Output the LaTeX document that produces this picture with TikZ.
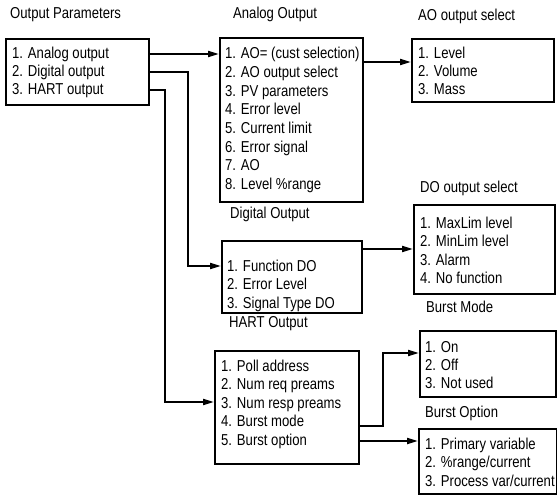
\documentclass[tikz,border=0pt]{standalone}
\usepackage{fontspec}
\setmainfont{Liberation Sans}[FakeStretch=0.83]
\usetikzlibrary{arrows.meta}
\begin{document}
\begin{tikzpicture}[x=1pt,y=-1pt,
  box/.style={draw, line width=2pt, anchor=north west, inner sep=0pt},
  txt/.style={anchor=base west, inner sep=0pt, font=\fontsize{15.8}{18}\selectfont},
  conn/.style={line width=2pt},
  arr/.style={conn, -{Triangle[length=11pt,width=6pt]}}]
\fill[white] (0,0) rectangle (557,495);
\useasboundingbox (0,0) rectangle (557,495);
% titles
\node[txt] (t-op) at (10,19) {Output Parameters};
\node[txt] (t-an) at (233,19) {Analog Output};
\node[txt] (t-aos) at (418,21) {AO output select};
\node[txt] (t-dos) at (420,192) {DO output select};
\node[txt] (t-dg) at (230,218) {Digital Output};
\node[txt] (t-bm) at (426,312) {Burst Mode};
\node[txt] (t-ht) at (229,327) {HART Output};
\node[txt] (t-bo) at (425,417) {Burst Option};
% boxes
\node[box, minimum width=143, minimum height=66] (op) at (5,38) {};
\node[box, minimum width=143, minimum height=164] (an) at (219,37) {};
\node[box, minimum width=142, minimum height=63] (aos) at (411,38) {};
\node[box, minimum width=140, minimum height=72] (dg) at (221,240) {};
\node[box, minimum width=141, minimum height=89] (dos) at (413,204) {};
\node[box, minimum width=144, minimum height=113] (ht) at (214,350) {};
\node[box, minimum width=136, minimum height=66] (bm) at (419,330) {};
\node[box, minimum width=138, minimum height=65] (bo) at (418,428) {};
% lists
\foreach \t [count=\i] in {1. Analog output, 2. Digital output, 3. HART output}
  \node[txt] (op-\i) at (12,{59+(\i-1)*18}) {\t};
\foreach \t [count=\i] in {1. AO= (cust selection), 2. AO output select, 3. PV parameters, 4. Error level, 5. Current limit, 6. Error signal, 7. AO, 8. Level \%range}
  \node[txt] (an-\i) at (225,{59+(\i-1)*18.6}) {\t};
\foreach \t [count=\i] in {1. Level, 2. Volume, 3. Mass}
  \node[txt] (aos-\i) at (418,{59+(\i-1)*18}) {\t};
\foreach \t [count=\i] in {1. Function DO, 2. Error Level, 3. Signal Type DO}
  \node[txt] (dg-\i) at (227,{271+(\i-1)*18.6}) {\t};
\foreach \t [count=\i] in {1. MaxLim level, 2. MinLim level, 3. Alarm, 4. No function}
  \node[txt] (dos-\i) at (420,{228+(\i-1)*18.6}) {\t};
\foreach \t [count=\i] in {1. Poll address, 2. Num req preams, 3. Num resp preams, 4. Burst mode, 5. Burst option}
  \node[txt] (ht-\i) at (221,{371+(\i-1)*18.6}) {\t};
\foreach \t [count=\i] in {1. On, 2. Off, 3. Not used}
  \node[txt] (bm-\i) at (425,{352+(\i-1)*18}) {\t};
\foreach \t [count=\i] in {1. Primary variable, 2. \%range/current, 3. Process var/current}
  \node[txt] (bo-\i) at (425,{449+(\i-1)*18.8}) {\t};
% connectors
\draw[arr] (op.east |- 0,54) -- (an.west |- 0,54);
\draw[arr] (op.east |- 0,72) -- (188,72) -- (188,266) -- (dg.west |- 0,266);
\draw[arr] (op.east |- 0,90) -- (165,90) -- (165,402) -- (ht.west |- 0,402);
\draw[arr] (an.east |- 0,62) -- (aos.west |- 0,62);
\draw[arr] (dg.east |- 0,249) -- (dos.west |- 0,249);
\draw[arr] (ht.east |- 0,426) -- (383,426) -- (383,353) -- (bm.west |- 0,353);
\draw[arr] (ht.east |- 0,441) -- (bo.west |- 0,441);
\end{tikzpicture}
\end{document}
